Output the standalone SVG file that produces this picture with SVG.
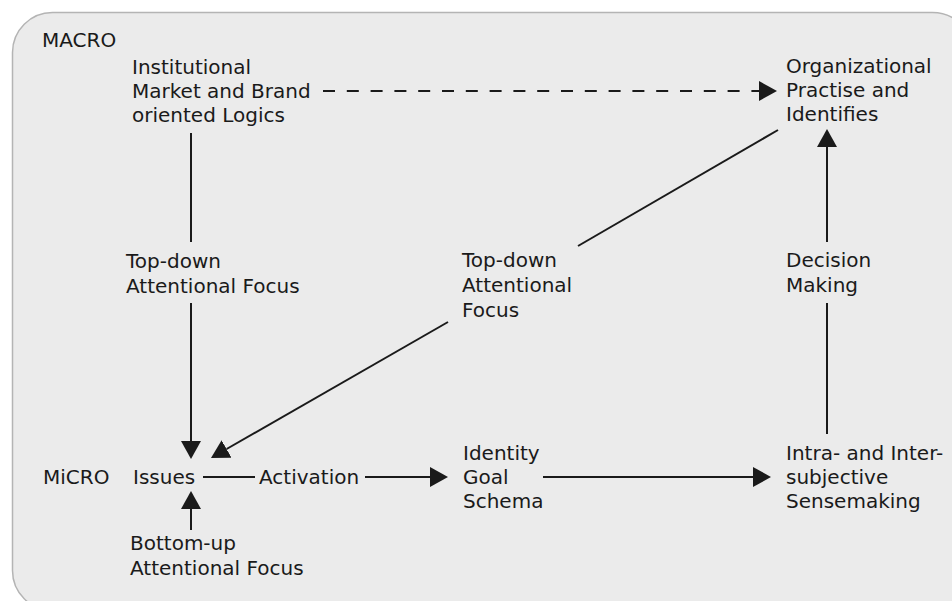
<svg xmlns="http://www.w3.org/2000/svg" width="952" height="601" viewBox="0 0 952 601">
<defs>
<marker id="arr" markerUnits="userSpaceOnUse" markerWidth="18" markerHeight="20" viewBox="0 0 18 20" refX="0" refY="10" orient="auto">
<path d="M0,0 L18,10 L0,20 Z" fill="#1a1a1a"/>
</marker>
<style>
text{font-family:"DejaVu Sans","Liberation Sans",sans-serif;font-size:20px;fill:#1a1a1a}
.ln{stroke:#1a1a1a;stroke-width:2;fill:none}
.ar{marker-end:url(#arr)}
.dash{stroke-dasharray:12 11.8}
</style>
</defs>
<rect x="0" y="0" width="952" height="601" fill="#ffffff"/>
<rect id="frame" x="12.5" y="12.5" width="960" height="598" rx="40" ry="40" fill="#ebebeb" stroke="#b4b4b4" stroke-width="1.5"/>
<g id="connectors">
<line class="ln dash ar" x1="323" y1="91" x2="759" y2="91"/>
<line class="ln" x1="191" y1="133" x2="191" y2="242"/>
<line class="ln ar" x1="191" y1="303" x2="191" y2="441"/>
<line class="ln" x1="578" y1="246" x2="778" y2="130"/>
<line class="ln ar" x1="448" y1="322" x2="226.6" y2="449"/>
<line class="ln" x1="203" y1="477" x2="255" y2="477"/>
<line class="ln ar" x1="365" y1="477" x2="430" y2="477"/>
<line class="ln ar" x1="543" y1="477" x2="753" y2="477"/>
<line class="ln ar" x1="191" y1="530" x2="191" y2="509"/>
<line class="ln" x1="827" y1="434" x2="827" y2="303"/>
<line class="ln ar" x1="827" y1="242" x2="827" y2="147"/>
</g>
<g id="macro-label"><text x="42" y="47">MACRO</text></g>
<g id="micro-label"><text x="43" y="484">MiCRO</text></g>
<g id="institutional"><text x="132" y="74">Institutional</text><text x="132" y="98">Market and Brand</text><text x="132" y="122">oriented Logics</text></g>
<g id="organizational"><text x="786" y="73">Organizational</text><text x="786" y="97">Practise and</text><text x="786" y="121">Identifies</text></g>
<g id="topdown-left"><text x="126" y="268">Top-down</text><text x="126" y="293">Attentional Focus</text></g>
<g id="topdown-mid"><text x="462" y="267">Top-down</text><text x="462" y="292">Attentional</text><text x="462" y="317">Focus</text></g>
<g id="decision"><text x="786" y="267">Decision</text><text x="786" y="292">Making</text></g>
<g id="issues"><text x="133" y="484">Issues</text></g>
<g id="activation"><text x="259" y="484">Activation</text></g>
<g id="identity"><text x="463" y="460">Identity</text><text x="463" y="484">Goal</text><text x="463" y="508">Schema</text></g>
<g id="sensemaking"><text x="786" y="460">Intra- and Inter-</text><text x="786" y="484">subjective</text><text x="786" y="508">Sensemaking</text></g>
<g id="bottomup"><text x="130" y="550">Bottom-up</text><text x="130" y="575">Attentional Focus</text></g>
</svg>
